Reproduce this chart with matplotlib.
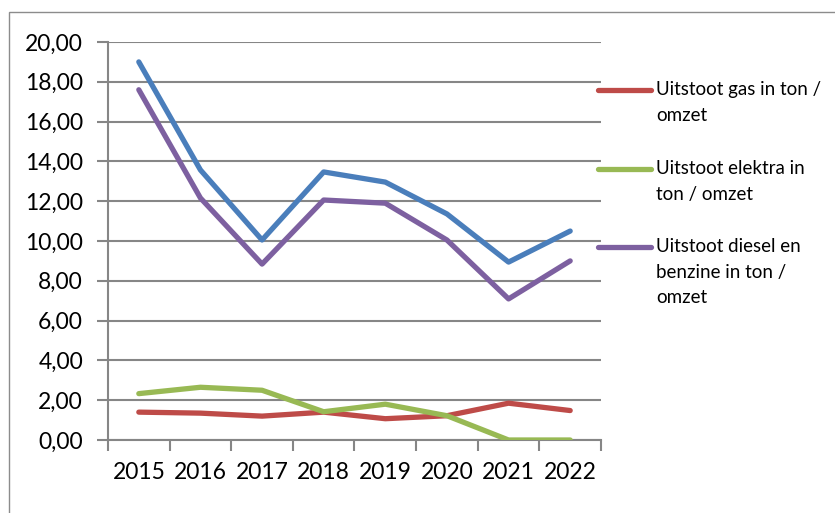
import matplotlib
matplotlib.use("Agg")
import matplotlib.pyplot as plt
from matplotlib.lines import Line2D
from matplotlib.patches import Rectangle
from matplotlib.ticker import FuncFormatter, MultipleLocator

years = ["2015", "2016", "2017", "2018", "2019", "2020", "2021", "2022"]
totaal = [19.0, 13.57, 10.05, 13.47, 12.96, 11.36, 8.94, 10.50]
diesel = [17.60, 12.16, 8.84, 12.06, 11.90, 10.05, 7.09, 9.00]
gas = [1.40, 1.35, 1.20, 1.40, 1.07, 1.22, 1.85, 1.48]
elektra = [2.33, 2.65, 2.50, 1.42, 1.80, 1.22, 0.00, 0.00]

labels = ["Uitstoot gas in ton /\nomzet",
          "Uitstoot elektra in\nton / omzet",
          "Uitstoot diesel en\nbenzine in ton /\nomzet"]

c_blue = "#4A7EBB"
c_purple = "#7D60A0"
c_red = "#BE4B48"
c_green = "#98B954"
grid_c = "#868686"

plt.rcParams['font.family'] = ['Lato', 'DejaVu Sans']

fig = plt.figure(figsize=(8.35, 5.13), dpi=100)
fig.patches.append(Rectangle((9 / 835, -0.1), 1.2, 1 - 12 / 513 + 0.1,
                             transform=fig.transFigure, fill=False,
                             edgecolor="#8C8C8C", linewidth=1.0))

ax = fig.add_axes([108 / 835, 1 - 440 / 513, (601 - 108) / 835, (440 - 42) / 513])
x = list(range(len(years)))
lw = 3.8
ax.plot(x, totaal, color=c_blue, lw=lw, solid_capstyle="round", solid_joinstyle="round", zorder=3)
ax.plot(x, diesel, color=c_purple, lw=lw, solid_capstyle="round", solid_joinstyle="round", zorder=3)
ax.plot(x, gas, color=c_red, lw=lw, solid_capstyle="round", solid_joinstyle="round", zorder=3)
ax.plot(x, elektra, color=c_green, lw=lw, solid_capstyle="round", solid_joinstyle="round", zorder=4)

ax.set_xlim(-0.5, len(years) - 0.5)
ax.set_ylim(0, 20)
ax.yaxis.set_major_locator(MultipleLocator(2))
ax.yaxis.set_major_formatter(FuncFormatter(lambda v, p: f"{v:.2f}".replace(".", ",")))
ax.grid(axis="y", color=grid_c, lw=1.5)
ax.set_axisbelow(True)
for s in ["top", "right"]:
    ax.spines[s].set_visible(False)
ax.spines["left"].set_color(grid_c)
ax.spines["left"].set_linewidth(1.5)
ax.spines["bottom"].set_color(grid_c)
ax.spines["bottom"].set_linewidth(1.5)

ax.set_xticks(x)
ax.set_xticklabels(years)
ax.set_xticks([i - 0.5 for i in range(len(years) + 1)], minor=True)
ax.tick_params(axis="x", which="major", length=0, pad=16, labelsize=16.5)
ax.tick_params(axis="x", which="minor", length=8, width=1.5, color=grid_c, direction="out")
ax.tick_params(axis="y", length=8, width=1.5, color=grid_c, labelsize=16.5, pad=10)

# legend
leg_y = [90, 169, 247]
leg_c = [c_red, c_green, c_purple]
for yy, cc, lab in zip(leg_y, leg_c, labels):
    fy = 1 - yy / 513
    fig.add_artist(Line2D([598 / 835, 651 / 835], [fy, fy], transform=fig.transFigure,
                          color=cc, lw=lw, solid_capstyle="round"))
    fig.text(656 / 835, fy + 9 / 513, lab, ha="left", va="top", fontsize=13.5,
             linespacing=1.62, color="#000000")

fig.savefig("out.png", dpi=100)
